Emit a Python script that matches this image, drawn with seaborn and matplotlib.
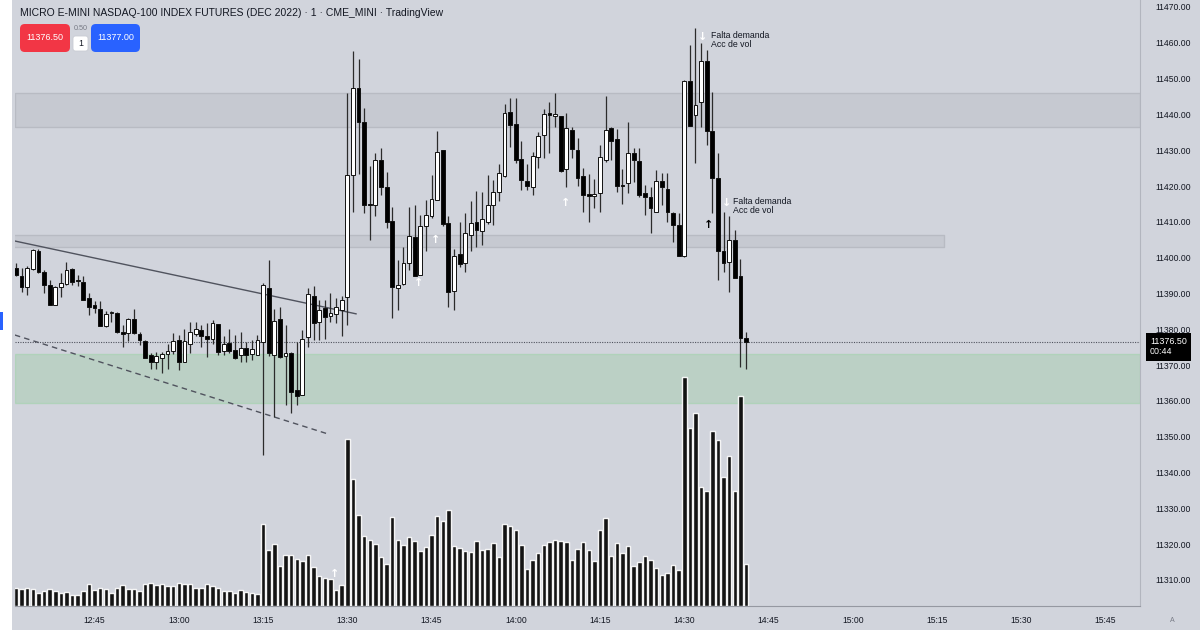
import numpy as np
import pandas as pd
import seaborn as sns
import matplotlib.pyplot as plt
from matplotlib.patches import Rectangle, FancyBboxPatch
from matplotlib.transforms import blended_transform_factory

# 1-minute candles, MNQ DEC 2022, from 12:31 to 14:41
opens = [11397.25, 11395, 11391.75, 11396.75, 11401.75, 11396, 11392.5, 11386.75, 11391.75, 11392.75,
         11396.75, 11393.75, 11393.25, 11388.75, 11386.75, 11385.75, 11381, 11384.5, 11384.5, 11379.25,
         11379, 11383, 11378.75, 11376.75, 11372.75, 11370.75, 11372, 11373, 11374, 11377,
         11371, 11376, 11378.75, 11379.75, 11378, 11377.25, 11381.5, 11374, 11376.25, 11374.25,
         11372.75, 11374.75, 11373, 11372.75, 11376.5, 11391.5, 11372.75, 11383, 11372.5, 11373.25,
         11363, 11361.75, 11377.75, 11389.25, 11382, 11386, 11383.75, 11384.25, 11385.5, 11389,
         11423, 11447.5, 11437.75, 11415, 11414.75, 11427.25, 11419.75, 11410.25, 11391.5, 11392.75,
         11398.5, 11405.75, 11395.25, 11408.75, 11411.5, 11416, 11430, 11409.75, 11390.75, 11401,
         11398.5, 11406.25, 11410, 11407.5, 11410, 11414.75, 11418.25, 11422.75, 11440.75, 11437.25,
         11427.5, 11421.5, 11419.75, 11428, 11434.25, 11440.5, 11439.5, 11439.5, 11424.75, 11435.75,
         11430, 11422.75, 11417.75, 11417.25, 11418, 11427.25, 11436.25, 11433.25, 11420, 11420.75,
         11429.25, 11427, 11418, 11417, 11412.75, 11421.5, 11419.25, 11412.5, 11409, 11400.5,
         11449.25, 11439.75, 11443.5, 11455, 11435.25, 11422.25, 11402, 11398.75, 11405, 11394.75,
         11377.5]
highs = [11398.5, 11397.25, 11397.75, 11402.5, 11402.5, 11396.5, 11393.75, 11392, 11395.75, 11398.75,
         11397, 11395.25, 11394.75, 11390.25, 11388, 11388, 11385, 11385, 11384.75, 11381.25,
         11383.25, 11385.75, 11379.25, 11377, 11373.5, 11373.75, 11373.75, 11376, 11379, 11378.5,
         11380, 11382, 11382, 11381.25, 11381.75, 11382.5, 11381.5, 11378, 11380, 11378.5,
         11379.25, 11376.5, 11377, 11378.5, 11393, 11399.25, 11385.75, 11386.25, 11381.25, 11373.75,
         11376.5, 11379.75, 11391.5, 11392, 11388.25, 11388.25, 11390.25, 11388.75, 11389.25, 11446,
         11457.75, 11455.5, 11441.75, 11425.5, 11429.25, 11430.5, 11424, 11414.25, 11399.25, 11403,
         11414.25, 11414.75, 11412, 11416, 11423, 11435.25, 11430, 11411.5, 11402.5, 11410,
         11412.5, 11415.75, 11418.5, 11418.25, 11423, 11421.75, 11426.25, 11443, 11444.5, 11444.5,
         11432.5, 11426.25, 11429.5, 11435, 11441.5, 11443.5, 11446, 11439.5, 11440.5, 11436.5,
         11433.5, 11425, 11423.25, 11422, 11431.5, 11445.25, 11436.5, 11436, 11424.75, 11437.75,
         11430.5, 11430.5, 11420.25, 11419.75, 11424.5, 11423.75, 11423.75, 11412.75, 11412.5, 11449.5,
         11459.5, 11464, 11460, 11458, 11446.25, 11429.25, 11412.75, 11411.5, 11407.75, 11399.5,
         11379.25]
lows = [11394.75, 11390.5, 11389.5, 11396.5, 11395.75, 11390.25, 11386.75, 11386.75, 11389, 11392.5,
        11392.5, 11392, 11388.25, 11384, 11384.5, 11381, 11380.75, 11382, 11379, 11375,
        11376.75, 11378.75, 11375.5, 11372, 11369, 11369, 11367.75, 11369, 11373, 11368.75,
        11371, 11373.25, 11378, 11375, 11372.25, 11376, 11372.75, 11372.75, 11373.5, 11371.75,
        11371, 11370.75, 11371.5, 11372.75, 11345, 11372.5, 11355.5, 11372, 11358.75, 11356.75,
        11358.75, 11361.75, 11375, 11377, 11377, 11377.25, 11382, 11381.75, 11378, 11381.25,
        11412.75, 11423.5, 11412.5, 11405, 11411.5, 11417.5, 11408.25, 11383.25, 11385.5, 11392.5,
        11396.5, 11394.75, 11395.25, 11401.75, 11411, 11416, 11408.75, 11386.25, 11385.5, 11397.5,
        11396, 11401.75, 11403, 11403.5, 11409.5, 11409.25, 11415.75, 11422.5, 11431, 11426.5,
        11419, 11419, 11417.5, 11425, 11427.75, 11429.25, 11436.5, 11424, 11419.75, 11427.75,
        11420, 11412.75, 11410, 11413.75, 11412.75, 11426.75, 11427.25, 11418.25, 11415, 11418,
        11421.25, 11417, 11412, 11406.75, 11412.75, 11414.75, 11410, 11404.25, 11400.5, 11400.25,
        11436.75, 11426.5, 11436.5, 11431.5, 11412.5, 11393.75, 11396, 11390.5, 11394.25, 11369.5,
        11369]
closes = [11395.25, 11391.75, 11397.25, 11402.25, 11396, 11392.5, 11386.75, 11391.75, 11393, 11396.5,
          11393.25, 11393.5, 11388.25, 11386.25, 11386, 11381, 11384.25, 11384.75, 11379.25, 11378.75,
          11383, 11379, 11377, 11372, 11370.75, 11372.5, 11373, 11374, 11376.75, 11371,
          11376.75, 11379.25, 11380, 11378, 11377.25, 11381.75, 11373.75, 11376, 11374, 11372,
          11374.75, 11372.75, 11374.5, 11377, 11392.5, 11373.5, 11382.25, 11372.25, 11373.5, 11362.5,
          11361.5, 11377.25, 11389.75, 11381.75, 11385.25, 11383.5, 11384.5, 11386.25, 11388.25, 11423,
          11447.5, 11437.75, 11414.75, 11414.75, 11427.25, 11419.75, 11410, 11391.75, 11392.5, 11398.5,
          11406, 11395, 11408.75, 11412, 11416.25, 11429.5, 11409.5, 11390.5, 11400.5, 11398.25,
          11406.75, 11409.75, 11407.75, 11410.75, 11414.75, 11418.25, 11423.75, 11440.5, 11437, 11427.25,
          11421.75, 11420, 11428.25, 11434, 11440.25, 11439.75, 11440.25, 11424.25, 11436.25, 11430.25,
          11422.25, 11417.5, 11417.25, 11417.75, 11428, 11435.75, 11432.5, 11420, 11420, 11429.25,
          11427.25, 11417.5, 11417, 11413.75, 11421.5, 11419.75, 11412.75, 11409, 11400.5, 11449.25,
          11436.75, 11442.75, 11455, 11435.25, 11422.25, 11401.75, 11398.5, 11405, 11394.25, 11377.5,
          11376.5]
volume = [18, 17, 18, 17, 13, 15, 17, 15, 13, 14, 11, 11, 15, 22, 16, 18, 17, 13, 18, 21,
          17, 17, 15, 22, 23, 21, 22, 20, 20, 23, 22, 22, 18, 18, 22, 20, 18, 15, 15, 13,
          16, 14, 13, 12, 82, 56, 62, 40, 51, 51, 47, 45, 51, 39, 30, 28, 27, 16, 21, 167,
          127, 91, 70, 66, 62, 49, 42, 89, 66, 61, 69, 65, 55, 59, 71, 90, 85, 96, 60, 58,
          55, 54, 65, 56, 57, 63, 49, 82, 80, 76, 61, 37, 46, 53, 61, 64, 66, 65, 64, 46,
          57, 64, 56, 45, 76, 88, 50, 63, 53, 60, 40, 44, 50, 46, 38, 31, 33, 41, 36, 229,
          178, 193, 119, 115, 175, 166, 129, 150, 115, 210, 42]
start_minute = 31  # minutes after 12:00

price_ticks = list(range(11310, 11471, 10))
time_ticks = list(range(45, 226, 15))
time_labels = [f"{12 + t // 60}:{t % 60:02d}" for t in time_ticks]

zone_top = (11436.6, 11445.9)
zone_mid = (11403.0, 11406.3)
zone_mid_end = 196.3
zone_green = (11359.3, 11373.1)
trend_solid = ([30.8, 91.6], [11404.65, 11384.3])
trend_dashed = ([30.8, 86.5], [11378.4, 11350.8])
note_text = "Falta demanda\nAcc de vol"
notes = [(154.8, 11463.3), (158.7, 11416.9)]
down_marks = [(153.3, 11461.6), (157.6, 11415.3)]
up_marks_white = [(102.6, 11392.9), (105.8, 11404.9), (128.8, 11415.3)]
up_mark_black = (154.4, 11409.1)
vol_mark = (87.8, 32)

df = pd.DataFrame({"minute": np.arange(len(opens)) + start_minute,
                   "open": opens, "high": highs, "low": lows, "close": closes,
                   "volume": volume})
df["bull"] = df["close"] > df["open"]

BG = "#d1d4dc"
sns.set_style("white", {"axes.facecolor": BG, "figure.facecolor": BG})
plt.rcParams["font.family"] = ["Liberation Sans", "DejaVu Sans"]
ARROW = dict(fontsize=8, fontweight="bold", family="DejaVu Sans", ha="center", va="center", zorder=5)

fig = plt.figure(figsize=(12, 6.36), dpi=100)
rect = [15 / 1200, 1 - 606 / 636, 1125 / 1200, 606 / 636]
ax = fig.add_axes(rect)
ax_vol = fig.add_axes(rect, sharex=ax)
ax_vol.patch.set_alpha(0)

# zones and drawings
ax.axhspan(*zone_top, facecolor="#c6c9d1", edgecolor="#b8bbc3", lw=1, zorder=1)
ax.fill_between([df["minute"].min() - 5, zone_mid_end], zone_mid[0], zone_mid[1],
                facecolor="#c6c9d1", edgecolor="#b8bbc3", lw=1, zorder=1)
ax.axhspan(*zone_green, facecolor="#a9cdb3", alpha=0.55, edgecolor="#9fd3a9", lw=1, zorder=1)
ax.plot(*trend_solid, color="#50535e", lw=1, zorder=2)
ax.plot(*trend_dashed, color="#50535e", lw=1, ls=(0, (4, 3)), zorder=2)
ax.axhline(df["close"].iloc[-1], color="#50535e", lw=0.8, ls=(0, (1, 1.2)), zorder=2)

# candles
ax.vlines(df["minute"], df["low"], df["high"], color="#2b2b2b", lw=0.9, zorder=3)
body_lo = np.minimum(df["open"], df["close"])
body_h = np.maximum((df["close"] - df["open"]).abs(), 0.3)
ax.bar(df["minute"], body_h, bottom=body_lo, width=0.68,
       color=np.where(df["bull"], "white", "black"), edgecolor="#111111", lw=0.7, zorder=4)

# marks and notes
for x, y in notes:
    ax.text(x, y, note_text, fontsize=6.3, color="#131722", va="top", ha="left",
            linespacing=0.95, zorder=5)
for x, y in down_marks:
    ax.text(x, y, "↓", color="white", **ARROW)
for x, y in up_marks_white:
    ax.text(x, y, "↑", color="white", **ARROW)
ax.text(*up_mark_black, "↑", color="black", **ARROW)

# volume, drawn over the zones
sns.barplot(data=df, x="minute", y="volume", native_scale=True, color="#050505",
            saturation=1, width=0.8, errorbar=None, alpha=0.93, ax=ax_vol)
ax_vol.set_ylim(0, 606)
ax_vol.set_axis_off()
ax_vol.text(vol_mark[0], vol_mark[1], "↑", color="white", **ARROW)

ax.set_xlim(30.83, 231.15)
ax.set_ylim(11302.73, 11471.95)
ax.yaxis.tick_right()
ax.set_yticks(price_ticks, [f"{v:.2f}" for v in price_ticks])
ax.set_xticks(time_ticks, time_labels)
ax.tick_params(axis="y", length=0, pad=11, labelsize=6.2, labelcolor="#131722")
ax.tick_params(axis="x", length=0, pad=7, labelsize=6.2, labelcolor="#131722")
for s in ["top", "left"]:
    ax.spines[s].set_visible(False)
ax.spines["right"].set_color("#b2b5be")
ax.spines["bottom"].set_color("#9598a1")
ax.set_xlabel("")
ax.set_ylabel("")

# last price tag
tr = blended_transform_factory(ax.transAxes, ax.transData)
ax.annotate(f"{df['close'].iloc[-1]:.2f}\n00:44", xy=(1, df["close"].iloc[-1]), xycoords=tr,
            xytext=(10, -5), textcoords="offset pixels", ha="left", va="center",
            fontsize=6.4, color="white", linespacing=1.1, annotation_clip=False,
            bbox=dict(boxstyle="square,pad=0.5", fc="black", ec="none"))


def px(x, y):
    return x / 1200, 1 - y / 636


# header
fig.text(*px(20, 13), "MICRO E-MINI NASDAQ-100 INDEX FUTURES (DEC 2022) · 1 · CME_MINI · TradingView",
         fontsize=7.5, color="#131722", va="center", ha="left")
for x0, x1, col, label in [(20, 70, "#f23645", "11376.50"), (91, 140, "#2962ff", "11377.00")]:
    fig.patches.append(FancyBboxPatch(px(x0, 52), (x1 - x0) / 1200, 28 / 636,
                                      boxstyle="round,pad=0,rounding_size=0.004",
                                      mutation_aspect=1200 / 636, fc=col, ec="none",
                                      transform=fig.transFigure))
    fig.text(*px((x0 + x1) / 2, 38), label, fontsize=6.5, color="white", ha="center", va="center")
fig.patches.append(FancyBboxPatch(px(73, 51), 15 / 1200, 15 / 636,
                                  boxstyle="round,pad=0,rounding_size=0.002",
                                  mutation_aspect=1200 / 636, fc="white", ec="#c9ccd4", lw=0.6,
                                  transform=fig.transFigure))
fig.text(*px(80.5, 44), "1", fontsize=6.3, color="#131722", ha="center", va="center")
fig.text(*px(80.5, 29), "0.50", fontsize=5.2, color="#787b86", ha="center", va="center")

# side strips
fig.patches.append(Rectangle((0, 0), 12 / 1200, 1, fc="white", ec="none", transform=fig.transFigure))
fig.patches.append(Rectangle(px(0, 330), 3 / 1200, 18 / 636, fc="#2962ff", ec="none",
                             transform=fig.transFigure))
fig.patches.append(Rectangle((0, 0), 1, 6 / 636, fc="white", ec="none", transform=fig.transFigure))
fig.text(*px(1172, 620), "A", fontsize=5, color="#787b86", ha="center", va="center")

fig.savefig("out.png", dpi=100)
